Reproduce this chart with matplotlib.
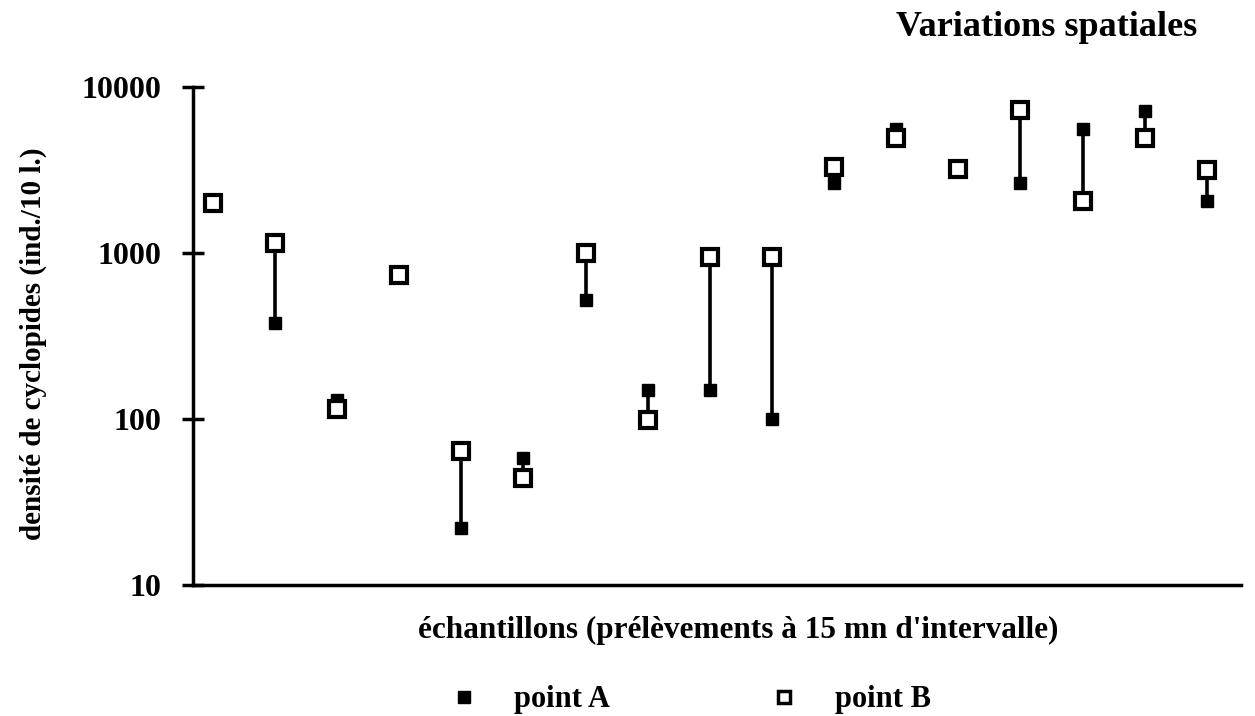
import matplotlib.pyplot as plt
from matplotlib.lines import Line2D
import numpy as np

# cyclopoid density per sample (ind./10 l.), two stations
samples = np.arange(1, 18)
point_a = [2000, 380, 130, 740, 22, 58, 520, 150, 150, 100,
           2650, 5600, 3200, 2650, 5600, 7200, 2050]
point_b = [2000, 1150, 115, 740, 64, 44, 1000, 99, 940, 940,
           3300, 4950, 3200, 7300, 2050, 4950, 3150]
y_ticks = [10, 100, 1000, 10000]

plt.rcParams['font.family'] = ['Liberation Serif', 'DejaVu Serif']
plt.rcParams['font.weight'] = 'bold'

W, H = 1255, 716
fig = plt.figure(figsize=(W / 100, H / 100), dpi=100)
ax = fig.add_axes([193 / W, 1 - 585 / H, (1241 - 193) / W, (585 - 87) / H])

# high-low line joining the two stations for each sample
ax.vlines(samples, np.minimum(point_a, point_b), np.maximum(point_a, point_b),
          color='black', lw=2.6, zorder=1)
ax.plot(samples, point_a, ls='none', marker='s', ms=8, mfc='black',
        mec='black', mew=1, zorder=2)
ax.plot(samples, point_b, ls='none', marker='s', ms=12, mfc='white',
        mec='black', mew=3, zorder=3)

ax.set_yscale('log')
ax.set_ylim(10, 10000)
ax.set_xlim(0.68, 17.55)
ax.set_yticks(y_ticks)
ax.set_yticklabels([str(v) for v in y_ticks])
ax.yaxis.set_minor_locator(plt.NullLocator())
ax.set_xticks([])
ax.tick_params(axis='y', direction='inout', length=16, width=2.5,
               labelsize=23, pad=15)
for lab in ax.get_yticklabels():
    lab.set_fontweight('bold')

for s in ('top', 'right'):
    ax.spines[s].set_visible(False)
ax.spines['left'].set_linewidth(2.5)
ax.spines['bottom'].set_linewidth(2.5)

fig.text(33 / W, 1 - 344 / H, 'densité de cyclopides (ind./10 l.)',
         fontsize=21, fontweight='bold', rotation=90, ha='center', va='center')
fig.text(738 / W, 1 - 630 / H, "échantillons (prélèvements à 15 mn d'intervalle)",
         fontsize=22.5, fontweight='bold', ha='center', va='center')
fig.text(1047 / W, 1 - 28 / H, 'Variations spatiales', fontsize=26,
         fontweight='bold', ha='center', va='center')

handles = [
    Line2D([], [], ls='none', marker='s', ms=8, mfc='black', mec='black'),
    Line2D([], [], ls='none', marker='s', ms=9, mfc='white', mec='black', mew=2.5),
]
fig.legend(handles, ['point A', 'point B'], loc='center',
           bbox_to_anchor=(682 / W, 1 - 700 / H), ncol=2, frameon=False,
           prop={'size': 22, 'weight': 'bold'}, columnspacing=4.7,
           handlelength=2, handletextpad=0.65)

fig.savefig('out.png', dpi=100)
